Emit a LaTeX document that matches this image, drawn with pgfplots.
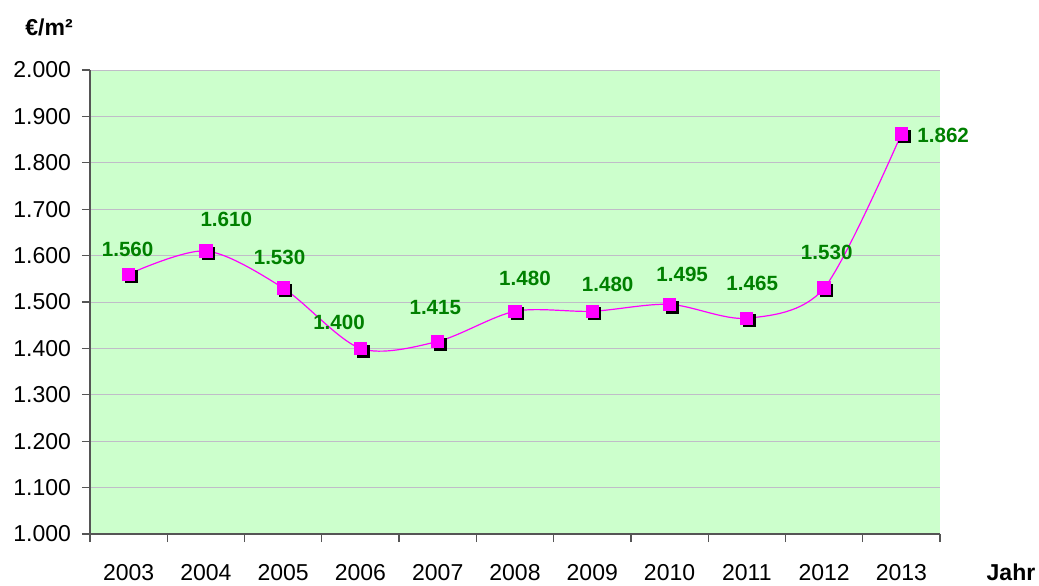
\documentclass[border=0pt]{standalone}
\usepackage{pgfplots}
\pgfplotsset{compat=1.18}
\usepackage{pgfplotstable}
\usepackage{fontspec}
\setmainfont{Liberation Sans}
\definecolor{bggreen}{RGB}{204,255,204}
\definecolor{lblgreen}{RGB}{0,128,0}
\definecolor{gridc}{RGB}{192,188,200}
\definecolor{axc}{RGB}{85,85,85}
\definecolor{mag}{RGB}{255,0,255}
\pgfplotstableread{
x y dx dy
0 1560 -0.5 12.5
1 1610 10.2 15.6
2 1530 -1.8 15.5
3 1400 -10.7 13.2
4 1415 -1.2 17.2
5 1480 5 16.3
6 1480 7.7 13.3
7 1495 6.3 15.1
8 1465 2.7 17.3
9 1530 1.3 17.8
10 1862 20.9 -0.6
}\datatable
\begin{document}
\begin{tikzpicture}
\useasboundingbox (-45pt,-25.5pt) rectangle (474.5pt,267pt);
\begin{axis}[
  at={(0,0)}, anchor=south west,
  scale only axis, width=425pt, height=232pt,
  xmin=-0.5, xmax=10.5, ymin=1000, ymax=2000,
  axis lines*=left,
  axis line style={axc, line width=0.6pt},
  axis background/.style={fill=bggreen},
  clip=false,
  tick align=outside,
  major tick length=4pt, minor tick length=4pt,
  every tick/.style={axc, line width=0.6pt},
  xtick={0,...,10},
  xticklabels={2003,2004,2005,2006,2007,2008,2009,2010,2011,2012,2013},
  major x tick style={draw=none},
  minor xtick={-0.5,0.5,...,10.5},
  ytick={1000,1100,...,2000},
  scaled y ticks=false,
  ymajorgrids,
  grid style={gridc, line width=0.5pt},
  /pgf/number format/assume math mode=true,
  /pgf/number format/.cd, 1000 sep={.}, fixed, precision=0, /pgfplots/.cd,
  tick label style={font=\fontsize{11.5}{13}\selectfont},
  xticklabel style={anchor=center, yshift=-15.5pt},
  yticklabel style={anchor=east, xshift=-2pt},
  ylabel={\textbf{€/m²}},
  ylabel style={at={(axis description cs:-0.0482,1.0927)}, rotate=-90, anchor=center, font=\fontsize{11.5}{13}\selectfont},
  xlabel={\textbf{Jahr}},
  xlabel style={at={(axis description cs:1.0835,-0.0819)}, anchor=center, font=\fontsize{11.5}{13}\selectfont},
]
\addplot[only marks, mark=square*, mark size=3pt, mark options={fill=black, draw=black, xshift=1.3pt, yshift=-1.3pt}] table[x=x,y=y] {\datatable};
\addplot[mag, line width=0.6pt, smooth, tension=0.5, mark=square*, mark size=3pt,
  mark options={fill=mag, draw=mag},
  visualization depends on={\thisrow{dx}\as\dx},
  visualization depends on={\thisrow{dy}\as\dy},
  point meta=y,
  nodes near coords={\pgfmathprintnumber[1000 sep={.},fixed,precision=0,assume math mode=true]{\pgfplotspointmeta}},
  every node near coord/.append style={anchor=center, xshift=\dx pt, yshift=\dy pt, text=lblgreen, font=\fontsize{10.3}{12}\selectfont\bfseries, inner sep=0pt}
] table[x=x,y=y] {\datatable};
\end{axis}
\end{tikzpicture}
\end{document}
